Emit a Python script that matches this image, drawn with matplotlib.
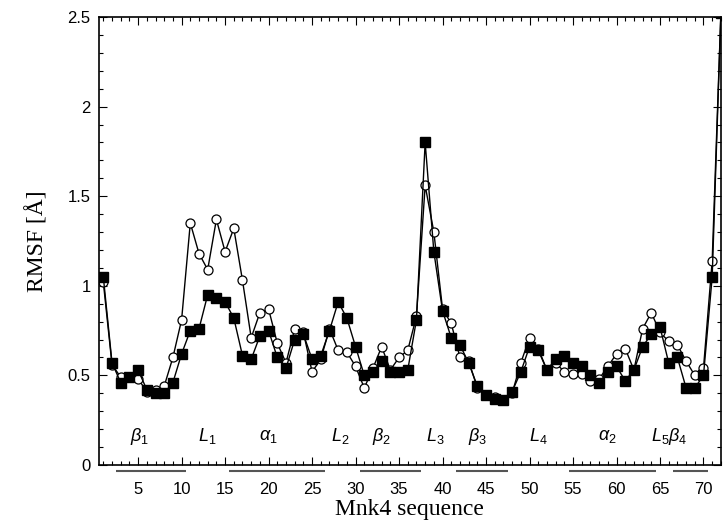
import matplotlib
matplotlib.use("Agg")
import matplotlib.pyplot as plt
from matplotlib.ticker import MultipleLocator, FormatStrFormatter

plt.rcParams['font.family'] = ['Liberation Sans', 'DejaVu Sans']
plt.rcParams['mathtext.fontset'] = 'custom'
plt.rcParams['mathtext.rm'] = 'Liberation Sans'
plt.rcParams['mathtext.it'] = 'Liberation Sans:italic'

# residue index
residues = list(range(1, 73))

# filled squares
rmsf_sq = [1.05, 0.57, 0.46, 0.49, 0.53, 0.42, 0.40, 0.40, 0.46, 0.62,
           0.75, 0.76, 0.95, 0.93, 0.91, 0.82, 0.61, 0.59, 0.72, 0.75,
           0.60, 0.54, 0.70, 0.73, 0.59, 0.61, 0.75, 0.91, 0.82, 0.66,
           0.50, 0.52, 0.58, 0.52, 0.52, 0.53, 0.81, 1.80, 1.19, 0.86,
           0.71, 0.67, 0.57, 0.44, 0.39, 0.37, 0.36, 0.41, 0.52, 0.66,
           0.64, 0.53, 0.59, 0.61, 0.57, 0.55, 0.50, 0.46, 0.52, 0.55,
           0.47, 0.53, 0.66, 0.73, 0.77, 0.57, 0.60, 0.43, 0.43, 0.50,
           1.05, 2.52]

# open circles
rmsf_ci = [1.02, 0.56, 0.49, 0.49, 0.48, 0.41, 0.42, 0.44, 0.60, 0.81,
           1.35, 1.18, 1.09, 1.37, 1.19, 1.32, 1.03, 0.71, 0.85, 0.87,
           0.68, 0.57, 0.76, 0.74, 0.52, 0.59, 0.76, 0.64, 0.63, 0.55,
           0.43, 0.54, 0.66, 0.53, 0.60, 0.64, 0.83, 1.56, 1.30, 0.87,
           0.79, 0.60, 0.58, 0.43, 0.39, 0.38, 0.36, 0.40, 0.57, 0.71,
           0.65, 0.53, 0.57, 0.52, 0.51, 0.51, 0.47, 0.48, 0.55, 0.62,
           0.65, 0.53, 0.76, 0.85, 0.74, 0.69, 0.67, 0.58, 0.50, 0.54,
           1.14, 2.52]

# secondary structure elements (first, last residue)
ss_start = [3, 16, 31, 42, 55, 67]
ss_end = [10, 26, 37, 47, 64, 70]

region_labels = [r'$\beta_1$', r'$L_1$', r'$\alpha_1$', r'$L_2$', r'$\beta_2$',
                 r'$L_3$', r'$\beta_3$', r'$L_4$', r'$\alpha_2$', r'$L_5\beta_4$']
region_pos = [5.2, 13.0, 20.0, 28.2, 33.0, 39.2, 44.0, 51.0, 59.0, 66.0]

fig = plt.figure(figsize=(7.24, 5.26), dpi=100)
ax = fig.add_axes([0.1367, 0.116, 0.859, 0.8517])

ax.plot(residues, rmsf_ci, '-o', color='black', lw=1.0, ms=6.5,
        mfc='white', mec='black', mew=0.9)
ax.plot(residues, rmsf_sq, '-s', color='black', lw=1.0, ms=6.5,
        mfc='black', mec='black')

ax.set_xlim(0.5, 72)
ax.set_ylim(0, 2.5)

ax.xaxis.set_major_locator(MultipleLocator(5))
ax.xaxis.set_minor_locator(MultipleLocator(1))
ax.yaxis.set_major_locator(MultipleLocator(0.5))
ax.yaxis.set_minor_locator(MultipleLocator(0.1))
ax.yaxis.set_major_formatter(FormatStrFormatter('%g'))
ax.set_xticks([5, 10, 15, 20, 25, 30, 35, 40, 45, 50, 55, 60, 65, 70])

ax.tick_params(which='both', direction='in', top=True, right=True,
               labelsize=12, width=0.8)
ax.tick_params(which='major', length=6, pad=12)
ax.tick_params(axis='y', which='major', pad=6)
ax.tick_params(which='minor', length=3)
for s in ax.spines.values():
    s.set_linewidth(1.2)

for lab, xp in zip(region_labels, region_pos):
    ax.text(xp, 0.16, lab, ha='center', va='center', fontsize=13)

for a, b in zip(ss_start, ss_end):
    ax.plot([a - 0.5, b + 0.5], [-0.035, -0.035], color='#555555', lw=1.5,
            clip_on=False, solid_capstyle='butt')

ax.set_xlabel('Mnk4 sequence', family='Liberation Serif', fontsize=17, labelpad=2)
ax.set_ylabel('RMSF [Å]', family='Liberation Serif', fontsize=17, labelpad=14)

fig.savefig('out.png', dpi=100)
